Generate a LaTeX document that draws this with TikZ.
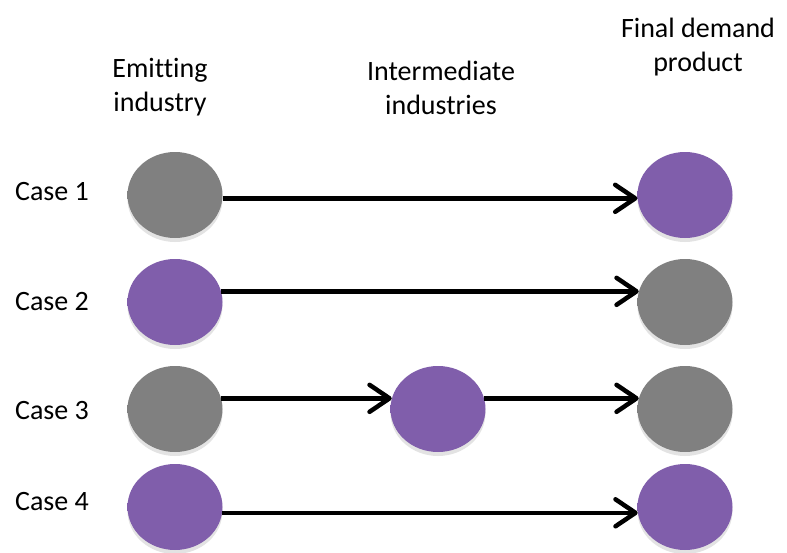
\documentclass[tikz,border=0pt]{standalone}
\usepackage{fontspec}
\setmainfont[Ligatures=NoCommon]{Carlito}
\usetikzlibrary{arrows.meta,shapes.geometric,shadows}

% Bevelled fills for the discs
\pgfdeclareradialshading{graydisc}{\pgfpoint{0bp}{2bp}}{%
  rgb(0bp)=(0.50,0.50,0.50); rgb(38bp)=(0.50,0.50,0.50);
  rgb(43bp)=(0.57,0.57,0.57); rgb(47bp)=(0.44,0.44,0.44);
  rgb(50bp)=(0.33,0.33,0.33)}
\pgfdeclareradialshading{purpledisc}{\pgfpoint{0bp}{2bp}}{%
  rgb(0bp)=(0.50,0.37,0.67); rgb(38bp)=(0.50,0.37,0.67);
  rgb(43bp)=(0.57,0.44,0.74); rgb(47bp)=(0.43,0.31,0.58);
  rgb(50bp)=(0.32,0.22,0.45)}

\tikzset{
  disc/.style={ellipse, minimum width=95pt, minimum height=86pt, inner sep=0pt,
    drop shadow={shadow xshift=0pt, shadow yshift=-4pt, opacity=0.22}},
  graynode/.style={disc, shading=graydisc},
  purplenode/.style={disc, shading=purpledisc},
  flow/.style={line width=4.5pt, -{Straight Barb[round, length=20pt, width=27pt]}},
  heading/.style={align=center, inner sep=0pt, font=\fontsize{28}{34}\selectfont},
  caselabel/.style={anchor=base, inner sep=0pt, font=\fontsize{28}{34}\selectfont}
}

\begin{document}
\begin{tikzpicture}[x=1pt,y=-1pt]
\useasboundingbox (0,0) rectangle (787,552);

% Column headings
\node[heading] (emit) at (160,87.5) {Emitting\\industry};
\node[heading] (inter) at (441,87.5) {Intermediate\\industries};
\node[heading] (final) at (698,47.5) {Final demand\\product};

% Row labels
\node[caselabel] (c1) at (52,200) {Case 1};
\node[caselabel] (c2) at (52,310) {Case 2};
\node[caselabel] (c3) at (52,419) {Case 3};
\node[caselabel] (c4) at (52,510) {Case 4};

% Case 1
\node[graynode] (L1) at (175,195) {};
\node[purplenode] (R1) at (685,195) {};
\draw[flow] (L1.-4) -- (R1.184);

% Case 2
\node[purplenode] (L2) at (175,302) {};
\node[graynode] (R2) at (685,302) {};
\draw[flow] (L2.13) -- (R2.167);

% Case 3
\node[graynode] (L3) at (175,409) {};
\node[purplenode] (M3) at (438,409) {};
\node[graynode] (R3) at (685,409) {};
\draw[flow] (L3.13) -- (M3.167);
\draw[flow] (M3.13) -- (R3.167);

% Case 4
\node[purplenode] (L4) at (175,507) {};
\node[purplenode] (R4) at (685,507) {};
\draw[flow] (L4.-7) -- (R4.187);

\end{tikzpicture}
\end{document}
